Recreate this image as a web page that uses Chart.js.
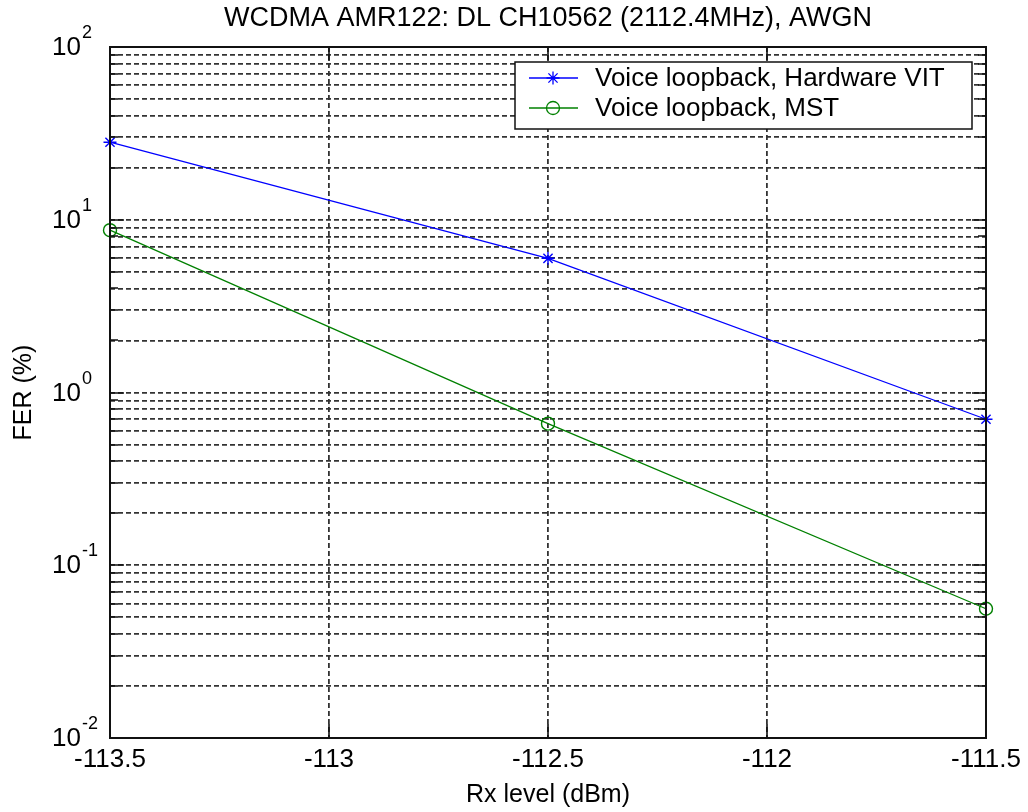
<!DOCTYPE html>
<html>
<head>
<meta charset="utf-8">
<script src="https://cdn.jsdelivr.net/npm/chart.js@4/dist/chart.umd.min.js"></script>
<style>
  html, body { margin: 0; padding: 0; background: #fff; }
  #wrap { width: 1028px; height: 812px; }
</style>
</head>
<body>
<div id="wrap"><canvas id="ferChart" width="1028" height="812"></canvas></div>
<script>
// values
const rxLevels = [-113.5, -112.5, -111.5];
const ferHardwareVit = [28.1, 5.98, 0.70];
const ferMst = [8.7, 0.66, 0.056];
const seriesNames = ['Voice loopback, Hardware VIT', 'Voice loopback, MST'];

// axis ticks
const xTicks = [-113.5, -113, -112.5, -112, -111.5];
const yDecades = [0.01, 0.1, 1, 10, 100];
const yExponents = ['-2', '-1', '0', '1', '2'];
const yMinorSteps = [1, 2, 3, 4, 5, 6, 7, 8, 9];

const FONT = "'Liberation Sans', Arial, sans-serif";

function toPoints(xs, ys){
    return xs.map((x, i) => ({x: x, y: ys[i]}));
}

// "10" with a raised exponent on the y axis
const decadeLabels = {
    id: 'decadeLabels',
    afterDraw(chart){
        const ctx = chart.ctx;
        const y = chart.scales.y;
        ctx.save();
        ctx.fillStyle = '#000';
        yDecades.forEach((d, i) => {
            const py = y.getPixelForValue(d);
            ctx.font = '26px ' + FONT;
            ctx.textAlign = 'right';
            ctx.textBaseline = 'middle';
            ctx.fillText('10', 81, py + 1);
            ctx.font = '18px ' + FONT;
            ctx.textAlign = 'left';
            ctx.textBaseline = 'alphabetic';
            ctx.fillText(yExponents[i], 82, py - 9);
        });
        ctx.restore();
    }
};

// box around the plot, inner tick marks and legend inside it
const frameAndLegend = {
    id: 'frameAndLegend',
    afterDraw(chart){
        const ctx = chart.ctx;
        const a = chart.chartArea;
        const xs = chart.scales.x;
        const ys = chart.scales.y;
        ctx.save();
        ctx.strokeStyle = '#111';
        ctx.setLineDash([]);

        // tick marks pointing in
        ctx.lineWidth = 1.6;
        ctx.beginPath();
        ys.ticks.forEach(t => {
            const py = Math.round(ys.getPixelForValue(t.value));
            const len = yDecades.some(d => Math.abs(d - t.value) < d * 1e-6) ? 14 : 8;
            ctx.moveTo(a.left, py); ctx.lineTo(a.left + len, py);
            ctx.moveTo(a.right, py); ctx.lineTo(a.right - len, py);
        });
        xTicks.forEach(v => {
            const px = Math.round(xs.getPixelForValue(v));
            ctx.moveTo(px, a.bottom); ctx.lineTo(px, a.bottom - 14);
            ctx.moveTo(px, a.top); ctx.lineTo(px, a.top + 14);
        });
        ctx.stroke();

        ctx.lineWidth = 2;
        ctx.strokeRect(a.left, a.top, a.right - a.left, a.bottom - a.top);

        // legend
        const bx = 515, by = 62, bw = 457, bh = 67;
        ctx.fillStyle = '#fff';
        ctx.fillRect(bx, by, bw, bh);
        ctx.lineWidth = 1.5;
        ctx.strokeStyle = '#111';
        ctx.strokeRect(bx, by, bw, bh);
        const rows = [78, 108];
        chart.data.datasets.forEach((ds, i) => {
            const ry = rows[i];
            ctx.strokeStyle = ds.borderColor;
            ctx.lineWidth = ds.borderWidth;
            ctx.beginPath();
            ctx.moveTo(529, ry);
            ctx.lineTo(578, ry);
            ctx.stroke();
            ctx.fillStyle = 'rgba(0,0,0,0)';
            Chart.helpers.drawPoint(ctx, {
                pointStyle: ds.pointStyle,
                radius: ds.pointRadius,
                rotation: 0,
                borderWidth: ds.pointBorderWidth
            }, 553, ry);
            ctx.fillStyle = '#000';
            ctx.font = '26px ' + FONT;
            ctx.textAlign = 'left';
            ctx.textBaseline = 'middle';
            ctx.fillText(ds.label, 595, ry + 1);
        });
        ctx.restore();
    }
};

const gridStyle = { color: '#333', lineWidth: 1.8, drawTicks: false, borderDash: [5, 3] };
const borderStyle = { display: false, dash: [5, 3] };

const ct = document.getElementById('ferChart').getContext('2d');
const ferChart = new Chart(ct, {
    type: 'line',
    data: {
        datasets: [{
            label: seriesNames[0],
            data: toPoints(rxLevels, ferHardwareVit),
            borderColor: '#0000ff',
            backgroundColor: '#0000ff',
            borderWidth: 1.3,
            pointStyle: 'star',
            pointRadius: 6.5,
            pointBorderWidth: 1.4,
            pointBorderColor: '#0000ff',
            pointBackgroundColor: 'rgba(0,0,0,0)',
            tension: 0,
            clip: false
        }, {
            label: seriesNames[1],
            data: toPoints(rxLevels, ferMst),
            borderColor: '#008000',
            backgroundColor: '#008000',
            borderWidth: 1.3,
            pointStyle: 'circle',
            pointRadius: 6.5,
            pointBorderWidth: 1.4,
            pointBorderColor: '#008000',
            pointBackgroundColor: 'rgba(0,0,0,0)',
            tension: 0,
            clip: false
        }]
    },
    options: {
        responsive: false,
        animation: false,
        events: [],
        layout: { padding: { left: 0, right: 42, top: 0, bottom: 0 } },
        plugins: {
            legend: { display: false },
            tooltip: { enabled: false },
            title: {
                display: true,
                text: 'WCDMA AMR122: DL CH10562 (2112.4MHz), AWGN',
                color: '#000',
                fullSize: false,
                font: { family: FONT, size: 27, weight: 'normal' },
                padding: { top: 2, bottom: 12.6 }
            }
        },
        scales: {
            x: {
                type: 'linear',
                min: -113.5,
                max: -111.5,
                afterBuildTicks: (scale) => { scale.ticks = xTicks.map(v => ({value: v})); },
                afterFit: (scale) => { scale.height = 74; },
                ticks: {
                    color: '#000',
                    padding: 6,
                    maxRotation: 0,
                    font: { family: FONT, size: 26 },
                    callback: (v) => String(v)
                },
                grid: gridStyle,
                border: borderStyle,
                title: {
                    display: true,
                    text: 'Rx level (dBm)',
                    color: '#000',
                    font: { family: FONT, size: 25 },
                    padding: { top: 0, bottom: 2 }
                }
            },
            y: {
                type: 'logarithmic',
                min: 0.01,
                max: 100,
                afterBuildTicks: (scale) => {
                    const t = [];
                    yDecades.forEach(d => {
                        yMinorSteps.forEach(m => {
                            const v = d * m;
                            if (v <= 100.0001) t.push({value: v});
                        });
                    });
                    scale.ticks = t;
                },
                afterFit: (scale) => { scale.width = 110; },
                ticks: { display: false },
                grid: gridStyle,
                border: borderStyle,
                title: {
                    display: true,
                    text: 'FER (%)',
                    color: '#000',
                    font: { family: FONT, size: 25 },
                    padding: { top: 9, bottom: 0 }
                }
            }
        }
    },
    plugins: [decadeLabels, frameAndLegend]
});
</script>
</body>
</html>
